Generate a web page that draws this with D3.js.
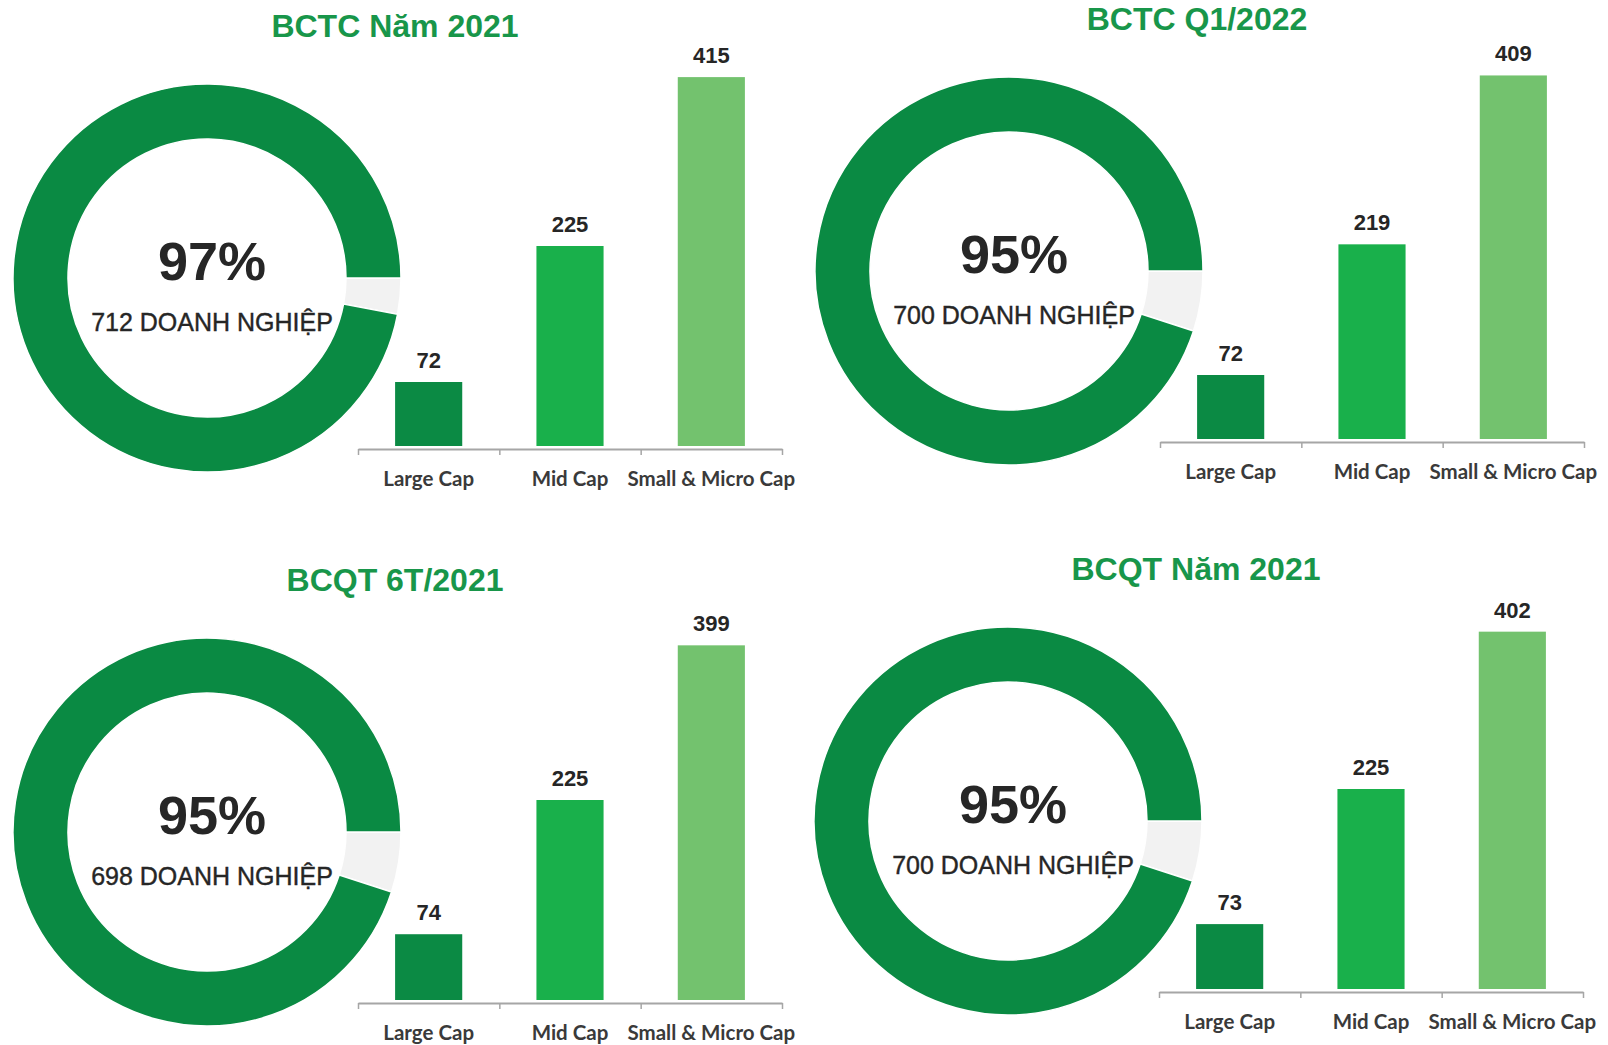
<!DOCTYPE html>
<html>
<head>
<meta charset="utf-8">
<script src="https://cdn.jsdelivr.net/npm/d3@7"></script>
<style>
  html, body { margin: 0; padding: 0; background: #ffffff; }
  svg { display: block; }
</style>
</head>
<body>
<div id="chart"></div>
<script>
// data for the 4 panels (order: top-left, top-right, bottom-left, bottom-right)
const panel_titles = ['BCTC Năm 2021', 'BCTC Q1/2022', 'BCQT 6T/2021', 'BCQT Năm 2021'];
const panel_percents = [97, 95, 95, 95];
const panel_companies = [712, 700, 698, 700];
const categories = ['Large Cap', 'Mid Cap', 'Small & Micro Cap'];
const large_cap = [72, 72, 74, 73];
const mid_cap = [225, 219, 225, 225];
const small_micro_cap = [415, 409, 399, 402];

const App = {
  state: {
    width: 1608,
    height: 1045,
    // panel offsets, relative to the top-left panel
    offsets: [[0, 0], [802, -7], [0, 554], [801, 543]],
    donut: { cx: 207, cy: 278, r_outer: 194, r_inner: 139 },
    bars: { x0: 358, x1: 782, base: 446, axis_y: 449 },
    colors: {
      title: '#18964a',
      donut: '#0a8a43',
      rest: '#f2f2f2',
      bars: ['#0b8a44', '#19b04b', '#73c26e'],
      text: '#262626',
      axis: '#a6a6a6'
    }
  },

  init() {
    const svg = d3.select('#chart').append('svg')
      .attr('width', this.state.width)
      .attr('height', this.state.height)
      .attr('viewBox', [0, 0, this.state.width, this.state.height]);

    svg.append('rect')
      .attr('width', this.state.width)
      .attr('height', this.state.height)
      .attr('fill', '#ffffff');

    panel_titles.forEach((title, i) => {
      const [dx, dy] = this.state.offsets[i];
      const g = svg.append('g').attr('transform', `translate(${dx},${dy})`);
      this.draw_title(g, title);
      this.draw_donut(g, panel_percents[i], panel_companies[i]);
      this.draw_bars(g, [large_cap[i], mid_cap[i], small_micro_cap[i]]);
    });
  },

  draw_title(g, title) {
    g.append('text')
      .attr('x', 395)
      .attr('y', 37)
      .attr('text-anchor', 'middle')
      .attr('font-family', '"Liberation Sans", Arial, sans-serif')
      .attr('font-weight', 'bold')
      .attr('font-size', 32)
      .attr('fill', this.state.colors.title)
      .text(title);
  },

  /**
   * Donut: share of companies that published, remainder in light grey,
   * grey slice starts at 3 o'clock and runs clockwise
   */
  draw_donut(g, percent, companies) {
    const { cx, cy, r_outer, r_inner } = this.state.donut;
    const colors = this.state.colors;

    const pie = d3.pie()
      .sort(null)
      .value(d => d.value)
      .startAngle(Math.PI / 2)
      .endAngle(Math.PI / 2 + 2 * Math.PI);

    const arc = d3.arc()
      .innerRadius(r_inner)
      .outerRadius(r_outer);

    const slices = [
      { key: 'rest', value: 100 - percent },
      { key: 'done', value: percent }
    ];

    g.append('g')
      .attr('transform', `translate(${cx},${cy})`)
      .selectAll('path')
      .data(pie(slices))
      .join('path')
      .attr('d', arc)
      .attr('fill', d => d.data.key == 'done' ? colors.donut : colors.rest)
      .attr('stroke', '#ffffff')
      .attr('stroke-width', 1.5);

    g.append('text')
      .attr('x', cx + 5)
      .attr('y', cy + 2)
      .attr('text-anchor', 'middle')
      .attr('font-family', '"Liberation Sans", Arial, sans-serif')
      .attr('font-weight', 'bold')
      .attr('font-size', 54)
      .attr('fill', colors.text)
      .text(`${percent}%`);

    g.append('text')
      .attr('x', cx + 5)
      .attr('y', cy + 53)
      .attr('text-anchor', 'middle')
      .attr('font-family', '"Liberation Sans", Arial, sans-serif')
      .attr('font-size', 25)
      .attr('fill', colors.text)
      .attr('stroke', colors.text)
      .attr('stroke-width', 0.4)
      .text(`${companies} DOANH NGHIỆP`);
  },

  draw_bars(g, values) {
    const { x0, x1, base, axis_y } = this.state.bars;
    const colors = this.state.colors;

    const x = d3.scaleBand()
      .domain(categories)
      .range([x0, x1])
      .paddingInner(0.525)
      .paddingOuter(0.2625);

    const y = d3.scaleLinear()
      .domain([0, 450])
      .range([base, base - 400]);

    const data = categories.map((c, i) => ({ category: c, value: values[i], color: colors.bars[i] }));

    g.append('g')
      .selectAll('rect')
      .data(data)
      .join('rect')
      .attr('x', d => x(d.category))
      .attr('y', d => y(d.value))
      .attr('width', x.bandwidth())
      .attr('height', d => y(0) - y(d.value))
      .attr('fill', d => d.color);

    // value labels
    g.append('g')
      .selectAll('text')
      .data(data)
      .join('text')
      .attr('x', d => x(d.category) + x.bandwidth() / 2)
      .attr('y', d => y(d.value) - 14)
      .attr('text-anchor', 'middle')
      .attr('font-family', '"Liberation Sans", Arial, sans-serif')
      .attr('font-weight', 'bold')
      .attr('font-size', 22)
      .attr('fill', colors.text)
      .text(d => d.value);

    // axis with ticks between the categories
    const x_ticks = d3.scaleLinear()
      .domain([0, categories.length])
      .range([x0, x1]);

    const axis = g.append('g')
      .attr('transform', `translate(0,${axis_y})`)
      .call(d3.axisBottom(x_ticks)
        .tickValues(d3.range(categories.length + 1))
        .tickSize(6)
        .tickSizeOuter(0)
        .tickFormat(''));
    axis.select('.domain')
      .attr('stroke', colors.axis)
      .attr('stroke-width', 2);
    axis.selectAll('.tick line')
      .attr('stroke', colors.axis)
      .attr('stroke-width', 1.5);

    // category labels
    g.append('g')
      .selectAll('text')
      .data(categories)
      .join('text')
      .attr('x', d => x(d) + x.bandwidth() / 2)
      .attr('y', 486)
      .attr('text-anchor', 'middle')
      .attr('font-family', 'Lato, "Open Sans", sans-serif')
      .attr('font-weight', 'bold')
      .attr('font-size', 20.5)
      .attr('fill', '#3a3a3a')
      .text(d => d);
  }
};

App.init();
</script>
</body>
</html>
